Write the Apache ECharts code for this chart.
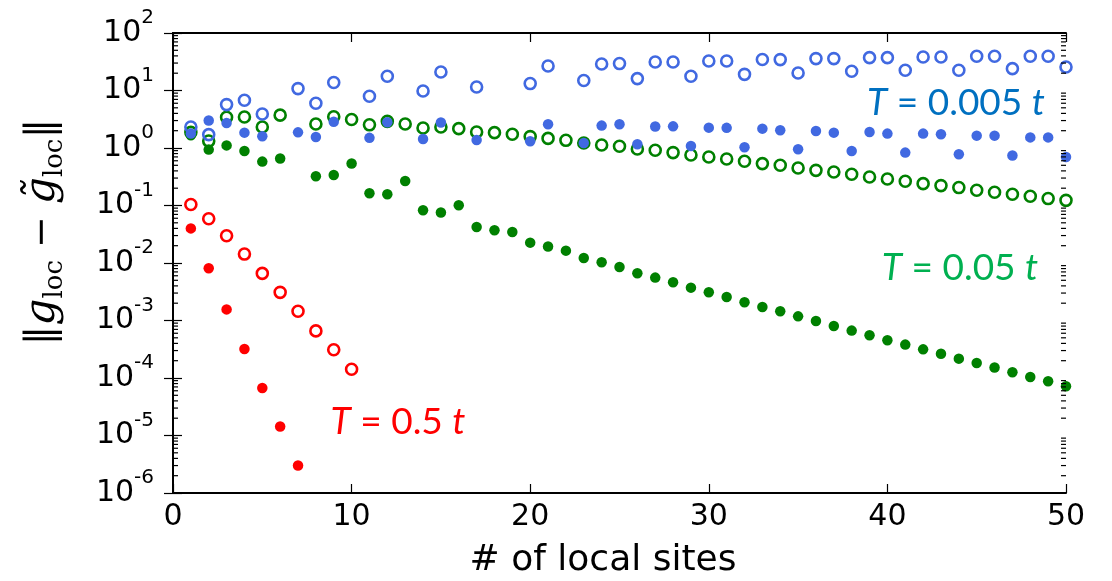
<!DOCTYPE html>
<html><head><meta charset="utf-8">
<script src="https://cdn.jsdelivr.net/npm/echarts@6/dist/echarts.min.js"></script>
<style>html,body{margin:0;padding:0;background:#fff}#c{width:1112px;height:581px}</style>
</head><body><div id="c"></div>
<script>
// ---------- data ----------
const sites = [1,2,3,4,5,6,7,8,9,10,11,12,13,14,15,16,17,18,19,20,21,22,23,24,25,26,27,28,29,30,31,32,33,34,35,36,37,38,39,40,41,42,43,44,45,46,47,48,49,50];
const xTickValues = [0,10,20,30,40,50];
const yTickExponents = [-6,-5,-4,-3,-2,-1,0,1,2];

// T = 0.5 t
const redOpen   = [0.104,0.0587,0.0297,0.0143,0.0066,0.00309,0.00145,0.00066,0.00031,0.000142];
const redFilled = [0.040,0.0081,0.00156,0.00032,0.000067,0.0000143,0.0000030];

// T = 0.05 t
const greenOpen = [1.87,1.32,3.42,3.46,2.32,3.73,null,2.61,3.49,3.13,
                   2.53,2.91,2.61,2.23,2.32,2.17,1.90,1.85,1.73,1.58,
                   1.47,1.36,1.22,1.13,1.07,0.96,0.912,0.832,0.755,0.697,
                   0.644,0.587,0.535,0.500,0.449,0.409,0.383,0.349,0.313,0.289,
                   0.264,0.240,0.222,0.205,0.184,0.170,0.157,0.145,0.132,0.123];
const greenFilled = [1.66,0.938,1.11,0.887,0.580,0.655,null,0.322,0.338,0.537,
                     0.163,0.157,0.267,0.0826,0.0753,0.101,0.0423,0.0371,0.0346,0.0226,
                     0.0193,0.0164,0.0122,0.0103,0.00851,0.00662,0.00557,0.00461,0.00373,0.00309,
                     0.00256,0.00207,0.00172,0.00145,0.00118,0.00098,0.00080,0.000667,0.000553,0.000453,
                     0.000381,0.000315,0.000265,0.000217,0.000182,0.000152,0.000126,0.000104,0.0000877,0.0000718];

// T = 0.005 t
const blueOpen = [2.32,1.71,5.69,6.76,3.90,null,10.8,5.99,13.8,null,
                  7.93,17.7,null,9.8,21.0,null,11.5,null,null,13.2,
                  26.7,null,14.9,28.9,29.4,16.1,31.3,31.3,17.7,32.6,
                  32.6,19.1,34.6,34.5,20.2,35.9,35.9,21.6,37.3,37.3,
                  22.5,38.3,38.3,22.5,39.4,39.4,24.0,39.4,39.4,25.6];
const blueFilled = [1.78,3.00,2.72,1.85,1.60,null,1.87,1.55,2.86,null,
                    1.50,2.80,null,1.43,2.77,null,1.38,null,null,1.31,
                    2.58,null,1.22,2.45,2.58,1.16,2.36,2.38,1.08,2.26,
                    2.24,1.03,2.17,2.03,0.95,1.98,1.85,0.887,1.90,1.78,
                    0.832,1.78,1.73,0.777,1.64,1.64,0.738,1.53,1.53,0.697];

const labelRed = 'T = 0.5 t', labelGreen = 'T = 0.05 t', labelBlue = 'T = 0.005 t';

// ---------- build ----------
function pts(arr){ return arr.map((v,i)=> v==null ? null : [sites[i], v]).filter(Boolean); }
const minorTickValues = [];
for (const e of yTickExponents.slice(0,-1)) for (let k=2;k<=9;k++) minorTickValues.push([0, k*Math.pow(10,e)]);

const BLACK = '#000';
const sans = 'DejaVu Sans';
function openSeries(name, arr, color){
  return {name, type:'scatter', data:pts(arr), symbol:'circle', symbolSize:11,
    itemStyle:{color:'rgba(0,0,0,0)', borderColor:color, borderWidth:2.6, opacity:1}, emphasis:{disabled:true}, clip:true};
}
function filledSeries(name, arr, color){
  return {name, type:'scatter', data:pts(arr), symbol:'circle', symbolSize:10.5,
    itemStyle:{color:color, opacity:1}, emphasis:{disabled:true}, clip:true};
}
function annot(txt, color, x, y){
  const parts = txt.split(' ');
  const first = parts[0], last = parts[parts.length-1], mid = ' ' + parts.slice(1,-1).join(' ') + ' ';
  return {type:'text', x, y, style:{
    text:'{i|'+first+'}{n|'+mid+'}{i|'+last+'}', align:'center', verticalAlign:'middle',
    rich:{i:{fontFamily:'Lato', fontStyle:'italic', fontSize:37, fill:color},
          n:{fontFamily:'Lato', fontSize:37, fill:color}}}};
}

const chart = echarts.init(document.getElementById('c'), null, {renderer:'canvas'});
const axisLine = {show:true, lineStyle:{color:BLACK, width:2}};
const yTick = {show:true, inside:true, length:9, lineStyle:{color:BLACK, width:1.2}};
chart.setOption({
  animation:false,
  backgroundColor:'#fff',
  grid:{left:173, right:46, top:33, bottom:88},
  xAxis:[
    {type:'value', position:'bottom', min:xTickValues[0], max:xTickValues[xTickValues.length-1], interval:10,
     axisLine, axisTick:{show:true, inside:true, length:9, lineStyle:{color:BLACK, width:1.2}},
     splitLine:{show:false},
     axisLabel:{fontFamily:sans, fontSize:30, color:BLACK, margin:9}},
    {type:'value', position:'top', min:xTickValues[0], max:xTickValues[xTickValues.length-1], interval:10,
     axisLine, axisTick:{show:true, inside:true, length:9, lineStyle:{color:BLACK, width:1.2}},
     splitLine:{show:false}, axisLabel:{show:false}}
  ],
  yAxis:[
    {type:'log', logBase:10, position:'left', min:Math.pow(10,yTickExponents[0]), max:Math.pow(10,yTickExponents[yTickExponents.length-1]), interval:1,
     axisLine, axisTick:yTick, splitLine:{show:false},
     axisLabel:{margin:19, align:'right',
       formatter:function(v){ const e = Math.round(Math.log10(v)); return '{b|10}{s|'+(e<0?'-'+(-e):e)+'}'; },
       rich:{b:{fontFamily:sans, fontSize:30, color:BLACK, lineHeight:50, verticalAlign:'middle'},
             s:{fontFamily:sans, fontSize:20, color:BLACK, lineHeight:20, verticalAlign:'top'}}}},
    {type:'log', logBase:10, position:'right', min:Math.pow(10,yTickExponents[0]), max:Math.pow(10,yTickExponents[yTickExponents.length-1]), interval:1,
     axisLine, axisTick:yTick, splitLine:{show:false}, axisLabel:{show:false}}
  ],
  series:[
    {type:'custom', name:'minorTicks', silent:true, clip:false, xAxisIndex:0, yAxisIndex:0, data:minorTickValues, z:3,
     renderItem:function(params, api){
       const cs = params.coordSys;
       const y = api.coord([0, api.value(1)])[1];
       return {type:'group', children:[
         {type:'line', shape:{x1:cs.x, y1:y, x2:cs.x+5, y2:y}, style:{stroke:BLACK, lineWidth:1.2}},
         {type:'line', shape:{x1:cs.x+cs.width-5, y1:y, x2:cs.x+cs.width, y2:y}, style:{stroke:BLACK, lineWidth:1.2}}
       ]};
     }},
    openSeries('T=0.5 open', redOpen, '#ff0000'),
    filledSeries('T=0.5 filled', redFilled, '#ff0000'),
    openSeries('T=0.05 open', greenOpen, '#008000'),
    filledSeries('T=0.05 filled', greenFilled, '#008000'),
    openSeries('T=0.005 open', blueOpen, '#4169e1'),
    filledSeries('T=0.005 filled', blueFilled, '#4169e1')
  ],
  graphic:[
    annot(labelBlue, '#0070c0', 956, 103),
    annot(labelGreen, '#00b050', 960, 268),
    annot(labelRed, '#ff0000', 398, 422),
    {type:'text', x:603, y:561, style:{text:'# of local sites', fontFamily:sans, fontSize:36, fill:BLACK, align:'center', verticalAlign:'middle'}},
    {type:'text', x:43, y:232, rotation:Math.PI/2, style:{
      text:'{n|‖}{g|g}{sub|loc}{m| − }{g|g\u0303}{sub|loc}{n|‖}', align:'center', verticalAlign:'middle',
      rich:{n:{fontFamily:'DejaVu Serif', fontSize:40, fill:BLACK, lineHeight:50, verticalAlign:'middle'},
            m:{fontFamily:'DejaVu Serif', fontSize:38, fill:BLACK, lineHeight:50, verticalAlign:'middle'},
            g:{fontFamily:'DejaVu Serif', fontStyle:'italic', fontSize:42, fill:BLACK, lineHeight:50, verticalAlign:'middle'},
            sub:{fontFamily:'DejaVu Serif', fontSize:26, fill:BLACK, lineHeight:28, verticalAlign:'bottom'}}}}
  ]
});
</script></body></html>
